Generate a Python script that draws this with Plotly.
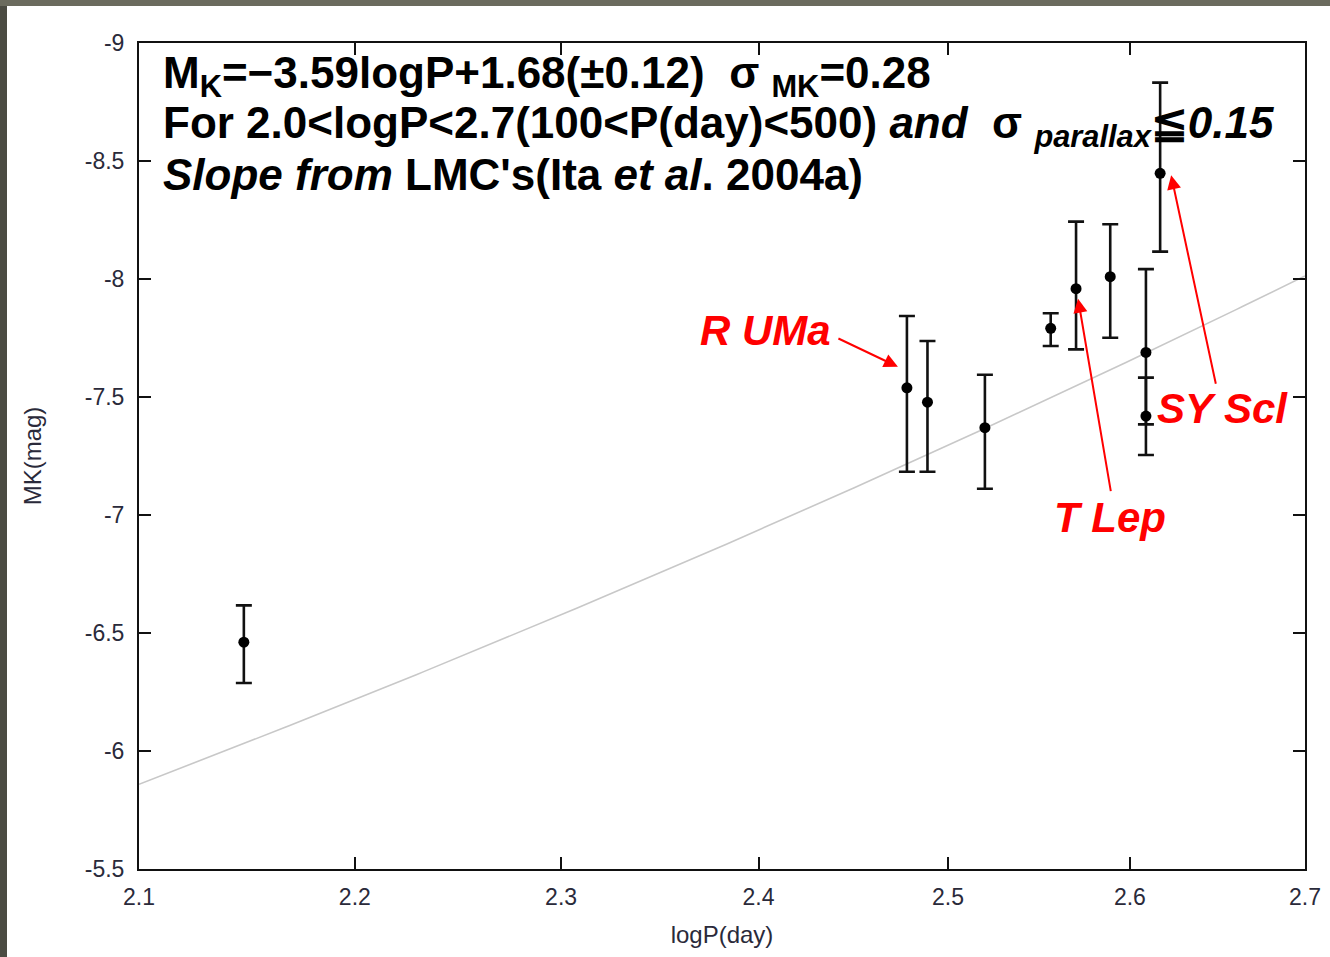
import numpy as np
import plotly.graph_objects as go

# ---- data ----
logP = [2.148, 2.478, 2.489, 2.520, 2.556, 2.570, 2.589, 2.609, 2.609, 2.617]
MK = [-6.461, -7.539, -7.478, -7.370, -7.791, -7.959, -8.010, -7.689, -7.419, -8.448]
MK_err_bright = [0.156, 0.304, 0.259, 0.224, 0.064, 0.284, 0.222, 0.353, 0.163, 0.384]  # toward more negative MK (up)
MK_err_faint = [0.173, 0.356, 0.295, 0.259, 0.075, 0.257, 0.259, 0.305, 0.165, 0.332]   # toward less negative MK (down)

fit_slope = -3.59
fit_intercept = 1.68
fit_range = [2.1, 2.7]

x_ticks = [2.1, 2.2, 2.3, 2.4, 2.5, 2.6, 2.7]
y_ticks = [-9, -8.5, -8, -7.5, -7, -6.5, -6, -5.5]
y_tick_text = ["-9", "-8.5", "-8", "-7.5", "-7", "-6.5", "-6", "-5.5"]

labels = [
    # (star, index of point)
    ("R UMa", 1),
    ("T Lep", 5),
    ("SY Scl", 9),
]

# ---- layout geometry ----
W, H = 1330, 957
ML, MR, MT, MB = 139, 25, 43, 88
PW, PH = W - ML - MR, H - MT - MB

def px2paper_x(px):
    return (px - ML) / PW

def px2paper_y(py):
    return (H - MB - py) / PH

fig = go.Figure()

# fit line
xf = np.linspace(fit_range[0], fit_range[1], 200)
yf = fit_slope * xf + fit_intercept
fig.add_trace(go.Scatter(x=xf, y=yf, mode="lines",
                         line=dict(color="#c8c8c8", width=1.6),
                         hoverinfo="skip", showlegend=False))

# data points with asymmetric error bars (y axis reversed: "array" = down on screen)
fig.add_trace(go.Scatter(
    x=logP, y=MK, mode="markers",
    marker=dict(color="black", size=11),
    error_y=dict(type="data", symmetric=False,
                 array=MK_err_faint, arrayminus=MK_err_bright,
                 color="#111111", thickness=2.6, width=8),
    showlegend=False))

# red labels + arrows
red = "#ff0000"
label_font = dict(family="Liberation Sans, Arial, sans-serif",
                  size=42, color=red, weight=700, style="italic")
# text offsets (pixels) relative to the pointed star, arrow geometry in pixels
text_offsets = {"R UMa": (-141, 57), "T Lep": (34, -229), "SY Scl": (62, -235)}
arrow_geo = {"R UMa": (-9, 21, -61, -29), "T Lep": (2, -10, 33, 194), "SY Scl": (11, -2, 45, 210)}
for name, idx in labels:
    dx, dy = text_offsets[name]
    fig.add_annotation(x=np.log10(logP[idx]), y=MK[idx], xref="x", yref="y",
                       text=name, showarrow=False, xshift=dx, yshift=dy,
                       font=label_font, xanchor="center", yanchor="middle")
    sx, sy, ax, ay = arrow_geo[name]
    fig.add_annotation(x=np.log10(logP[idx]), y=MK[idx], xref="x", yref="y",
                       text="", showarrow=True, xshift=sx, yshift=sy,
                       ax=ax, ay=ay, axref="pixel", ayref="pixel",
                       arrowhead=2, arrowsize=1.4, arrowwidth=2, arrowcolor=red)

# equation text
eq_font = dict(family="Liberation Sans, Arial, sans-serif",
               size=44, color="black", weight=700)
lines = [
    ("M<sub>K</sub>=−3.59logP+1.68(±0.12)  σ <sub>MK</sub>=0.28", 76),
    ("For 2.0&lt;logP&lt;2.7(100&lt;P(day)&lt;500) <i>and</i>  σ <sub><i>parallax</i></sub>≦<i>0.15</i>", 126),
    ("<i>Slope from</i> LMC's(Ita <i>et al</i>. 2004a)", 174),
]
for txt, ypx in lines:
    fig.add_annotation(x=px2paper_x(161), y=px2paper_y(ypx), xref="paper", yref="paper",
                       text=txt, showarrow=False, xanchor="left", yanchor="middle",
                       font=eq_font, align="left")

# dark slide border (left and top strips)
fig.add_shape(type="rect", xref="paper", yref="paper",
              x0=px2paper_x(0), x1=px2paper_x(7), y0=px2paper_y(H), y1=px2paper_y(0),
              fillcolor="#4b4b42", line=dict(width=0), layer="below")
fig.add_shape(type="rect", xref="paper", yref="paper",
              x0=px2paper_x(0), x1=px2paper_x(W), y0=px2paper_y(6), y1=px2paper_y(0),
              fillcolor="#6b6b5e", line=dict(width=0), layer="below")

tick_font = dict(family="Liberation Sans, Arial, sans-serif", size=23, color="#2a2a3a")
title_font = dict(family="Liberation Sans, Arial, sans-serif", size=24, color="#2a2a3a")
fig.update_xaxes(type="log", range=[np.log10(fit_range[0]), np.log10(fit_range[1])],
                 tickvals=x_ticks, ticktext=[f"{v:.1f}" for v in x_ticks],
                 ticks="inside", ticklen=12, tickwidth=2, tickcolor="#111",
                 showline=True, linecolor="#111", linewidth=2, mirror="ticks",
                 showgrid=False, zeroline=False, tickfont=tick_font, ticklabelstandoff=6,
                 title=dict(text="logP(day)", font=title_font, standoff=18))
fig.update_yaxes(range=[-5.5, -9], tickvals=y_ticks, ticktext=y_tick_text,
                 ticks="inside", ticklen=12, tickwidth=2, tickcolor="#111",
                 showline=True, linecolor="#111", linewidth=2, mirror="ticks",
                 showgrid=False, zeroline=False, tickfont=tick_font, ticklabelstandoff=8,
                 title=dict(text="MK(mag)", font=title_font, standoff=36))

fig.update_layout(width=W, height=H, margin=dict(l=ML, r=MR, t=MT, b=MB, autoexpand=False),
                  paper_bgcolor="white", plot_bgcolor="white", showlegend=False)

fig.write_html("out.html")
